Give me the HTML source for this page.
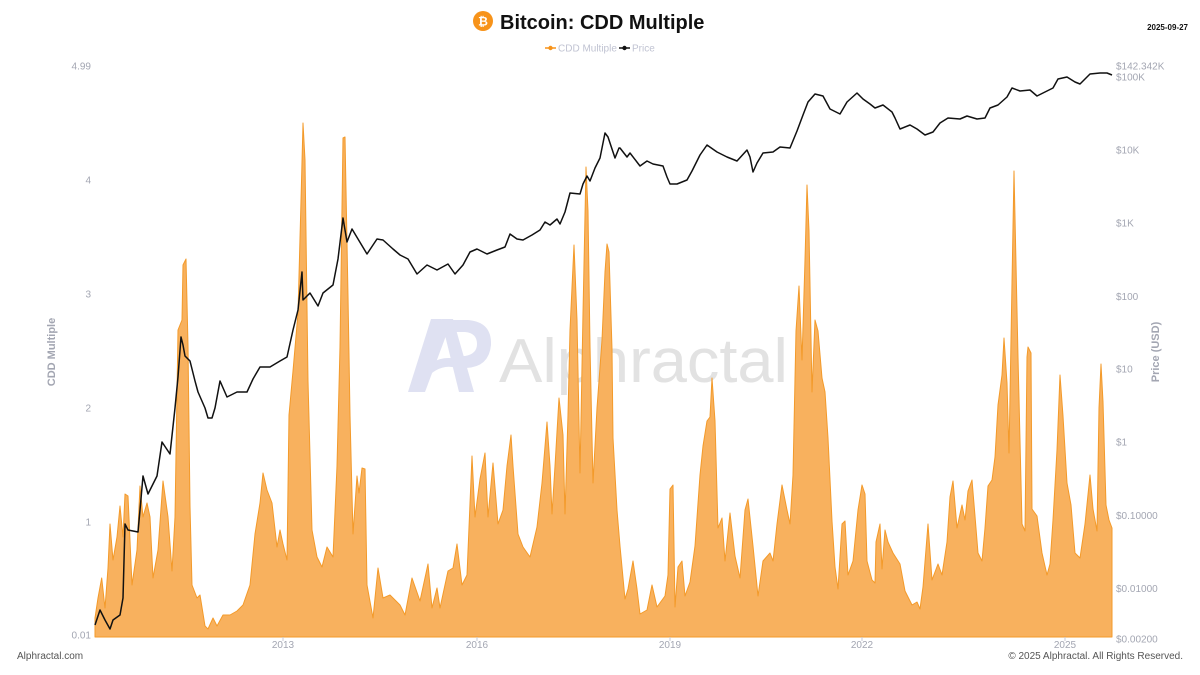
<!DOCTYPE html>
<html>
<head>
<meta charset="utf-8">
<style>
html,body{margin:0;padding:0;background:#fff;}
svg{display:block;}
text{font-family:"Liberation Sans",Arial,sans-serif;}
</style>
</head>
<body>
<svg width="1200" height="675" viewBox="0 0 1200 675" xmlns="http://www.w3.org/2000/svg">
<rect width="1200" height="675" fill="#ffffff"/>

<!-- Title -->
<circle cx="483" cy="21" r="10" fill="#f7931a"/>
<text x="483" y="25.5" font-size="12" font-weight="bold" fill="#fff" text-anchor="middle">₿</text>
<text x="500" y="29" font-size="20" font-weight="bold" fill="#111">Bitcoin: CDD Multiple</text>
<text x="1188" y="30" font-size="8" font-weight="bold" fill="#111" text-anchor="end">2025-09-27</text>

<!-- Legend -->
<line x1="545" y1="48" x2="556" y2="48" stroke="#f7931a" stroke-width="1.5"/>
<circle cx="550.5" cy="48" r="2.2" fill="#f7931a"/>
<text x="558" y="51.5" font-size="10" fill="#c0c3d2">CDD Multiple</text>
<line x1="619" y1="48" x2="630" y2="48" stroke="#111" stroke-width="1.5"/>
<circle cx="624.5" cy="48" r="2.2" fill="#111"/>
<text x="632" y="51.5" font-size="10" fill="#c0c3d2">Price</text>

<!-- Watermark -->
<g fill="#dfe1f2">
  <polygon points="408,392 425,392 447,333 441,319 431,319"/>
  <polygon points="441,319 453,319 474,392 459,392"/>
  <path d="M416,377 Q436,352 460,360 L457,368 Q438,362 421,384 Z"/>
  <path d="M447,320 L468,320 Q492,322 491,345 Q489,367 466,368 L456,368 L453,356 L465,356 Q477,354 477,344 Q477,333 465,332 L451,332 Z"/>
</g>
<text x="499" y="382" font-size="62" fill="#e2e2e2" textLength="289" lengthAdjust="spacingAndGlyphs">Alphractal</text>

<!-- CDD Multiple area -->
<path fill="#f8b15e" stroke="#f39a2a" stroke-width="1" stroke-linejoin="round" d="M95,637 L95,618 98,598 101.7,578 105,608 108,568 110,524 113,560 117,537 120,506 123,537 125,494 128,496 132,585 137,550 140,486 143,517 147,503 150,517 153,578 158,550 163,481 168,517 172,571 175,517 178,330 182,320 183,265 186,259 188,346 190,506 192,585 197,598 200,595 205,626 208,629 213,618 217,626 223,615 230,615 237,611 243,605 250,585 255,534 260,503 263,473 267,490 272,503 277,547 280,530 283,544 287,560 289,415 293,371 298,313 301,201 303,123 305,160 308,381 312,530 317,557 322,567 327,547 333,557 337,466 340,347 343,138 345,137 348,296 350,415 353,534 357,476 359,493 362,468 365,469 367,585 373,618 378,568 383,598 390,595 400,605 405,615 412,578 420,601 428,564 432,608 437,588 440,608 448,571 453,568 457,544 462,585 467,575 472,456 475,517 480,479 485,453 488,517 493,463 498,524 503,510 507,466 511,435 513,466 518,534 523,547 530,557 537,527 542,483 547,422 550,466 552,514 555,466 559,398 563,435 565,514 568,415 570,330 574,245 577,320 580,473 583,313 586,167 588,211 590,346 593,483 597,408 602,340 605,272 607,244 609,252 612,349 613,438 617,510 620,546 625,599 628,589 633,561 637,589 640,614 647,610 652,585 657,607 665,596 668,575 670,489 673,485 675,607 678,567 682,561 685,596 690,582 695,546 700,475 703,446 707,421 710,417 712,378 715,421 718,528 722,518 725,561 730,513 735,556 740,578 745,510 748,499 753,546 758,596 763,561 770,553 773,561 777,524 782,485 787,510 790,524 793,475 796,331 799,286 802,360 805,260 807,185 809,231 812,392 815,320 818,331 822,378 825,392 828,438 832,521 835,567 838,589 842,524 845,521 848,575 853,561 858,510 862,485 865,494 867,561 872,580 875,583 876,542 880,524 882,569 885,530 888,542 893,553 900,564 905,591 912,605 917,602 920,609 923,587 928,524 932,580 938,564 942,575 947,542 950,497 953,481 957,528 962,505 965,520 968,491 972,480 975,516 978,553 982,561 985,528 988,486 992,480 995,457 998,405 1002,375 1004,338 1007,383 1009,453 1012,283 1014,171 1016,264 1018,357 1022,524 1025,531 1027,357 1028,347 1031,353 1032,509 1037,516 1042,553 1047,575 1050,564 1053,520 1057,450 1060,375 1063,416 1067,483 1071,505 1075,553 1080,558 1085,524 1090,475 1093,509 1097,531 1099,408 1101,364 1103,402 1106,505 1109,520 1112,528 L1112,637 Z"/>

<!-- Price line -->
<polyline fill="none" stroke="#111" stroke-width="1.5" stroke-linejoin="round" points="95,625 100,610 105,620 110,629 113,620 120,615 123,598 125,524 128,530 138,532 140,510 143,476 148,494 157,476 162,442 170,454 175,408 178,377 181,337 183,345 185,356 190,361 195,381 198,392 205,408 208,418 212,418 215,408 220,381 227,397 237,392 247,392 253,379 260,367 270,367 280,361 287,357 293,330 298,310 302,272 303,300 310,293 318,306 323,293 333,285 338,259 343,218 347,242 352,229 358,239 367,254 377,239 383,240 393,249 400,255 408,259 417,274 427,265 437,270 448,264 455,274 463,265 470,252 477,249 487,254 497,250 505,247 510,234 517,239 523,240 532,235 540,230 545,222 550,225 557,219 560,224 565,212 570,193 580,194 583,184 587,176 590,181 595,168 600,158 605,133 608,137 615,158 619,148 620,148 627,157 630,153 640,166 647,161 653,164 663,166 667,177 670,184 677,184 687,180 692,171 700,155 707,145 717,152 727,157 737,161 747,150 750,157 753,172 757,163 763,153 773,152 780,147 790,148 797,131 803,115 808,102 815,94 823,96 830,109 840,114 847,102 857,93 863,99 870,104 875,108 883,105 892,112 895,118 900,129 910,125 917,129 925,135 933,132 940,123 948,118 960,119 967,116 977,119 985,118 990,108 998,105 1007,97 1012,88 1020,91 1030,90 1037,96 1043,93 1053,88 1058,79 1067,77 1075,82 1080,84 1090,74 1100,73 1107,73 1112,75"/>

<!-- Left axis labels -->
<g font-size="10" fill="#a3a6b2" text-anchor="end">
  <text x="91" y="69.5">4.99</text>
  <text x="91" y="183.5">4</text>
  <text x="91" y="297.5">3</text>
  <text x="91" y="411.5">2</text>
  <text x="91" y="525.5">1</text>
  <text x="91" y="638.5">0.01</text>
</g>
<text transform="translate(55,352) rotate(-90)" font-size="11" font-weight="bold" fill="#a3a6b2" text-anchor="middle">CDD Multiple</text>

<!-- Right axis labels -->
<g font-size="10" fill="#a3a6b2">
  <text x="1116" y="69.5">$142.342K</text>
  <text x="1116" y="80.5">$100K</text>
  <text x="1116" y="153.5">$10K</text>
  <text x="1116" y="226.5">$1K</text>
  <text x="1116" y="300">$100</text>
  <text x="1116" y="372.5">$10</text>
  <text x="1116" y="445.5">$1</text>
  <text x="1116" y="519">$0.10000</text>
  <text x="1116" y="592">$0.01000</text>
  <text x="1116" y="642.5">$0.00200</text>
</g>
<text transform="translate(1159,352) rotate(-90)" font-size="11" font-weight="bold" fill="#a3a6b2" text-anchor="middle">Price (USD)</text>

<!-- X axis ticks & labels -->
<g stroke="#c8cad4" stroke-width="1">
  <line x1="283" y1="637" x2="283" y2="641"/>
  <line x1="477" y1="637" x2="477" y2="641"/>
  <line x1="670" y1="637" x2="670" y2="641"/>
  <line x1="862" y1="637" x2="862" y2="641"/>
  <line x1="1065" y1="637" x2="1065" y2="641"/>
</g>
<g font-size="10" fill="#a3a6b2" text-anchor="middle">
  <text x="283" y="648">2013</text>
  <text x="477" y="648">2016</text>
  <text x="670" y="648">2019</text>
  <text x="862" y="648">2022</text>
  <text x="1065" y="648">2025</text>
</g>

<!-- Footer -->
<text x="17" y="659" font-size="10" fill="#555">Alphractal.com</text>
<text x="1183" y="659" font-size="10" fill="#555" text-anchor="end">© 2025 Alphractal. All Rights Reserved.</text>
</svg>
</body>
</html>
